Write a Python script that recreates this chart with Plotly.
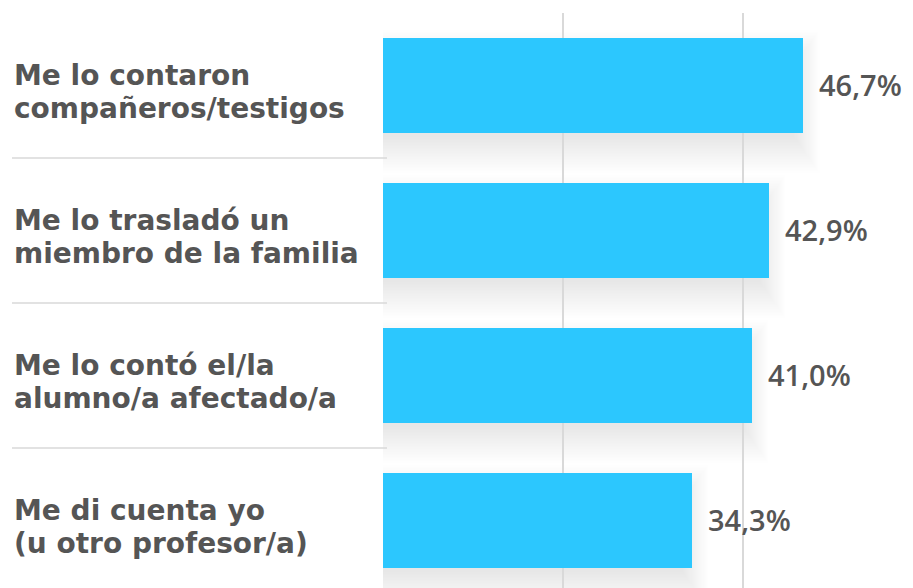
import plotly.graph_objects as go

# Respuestas: cómo se enteró el profesorado del caso
categories = [
    ["Me lo contaron", "compañeros/testigos"],
    ["Me lo trasladó un", "miembro de la familia"],
    ["Me lo contó el/la", "alumno/a afectado/a"],
    ["Me di cuenta yo", "(u otro profesor/a)"],
]
values = [46.7, 42.9, 41.0, 34.3]
value_labels = [f"{v:.1f}".replace(".", ",") + "%" for v in values]

W, H = 913, 588
M_L, M_T = 383, 13
X_MAX = 58.9
PX_PER_CAT = 145.0
plot_h = H - M_T
y_span = plot_h / PX_PER_CAT
BAR_W = 0.66

BAR_COLOR = "#2cc7fe"
TEXT_COLOR = "#555555"
GRID_COLOR = "#d9d9d9"
LABEL_FONT = "DejaVu Sans"
VALUE_FONT = "Open Sans"

ypos = list(range(len(values)))

fig = go.Figure()
fig.add_trace(go.Bar(
    x=values, y=ypos, orientation="h", width=BAR_W,
    marker=dict(color=BAR_COLOR, line=dict(width=0)),
    hoverinfo="skip",
))

shapes = []
# soft drop shadow under each bar: stacked translucent rectangles,
# offset downwards and spreading outwards
px_x = (W - M_L) / X_MAX
K = 24
OFF = 16
for i, v in enumerate(values):
    for k in range(K):
        s = -12 + 36 * k / (K - 1)
        shapes.append(dict(
            type="rect", xref="x", yref="y", layer="below",
            x0=0, x1=v + 0.7 * s / px_x,
            y0=i - BAR_W / 2 + (OFF - s) / PX_PER_CAT,
            y1=i + BAR_W / 2 + (OFF + s) / PX_PER_CAT,
            fillcolor="rgba(0,0,0,0.0055)", line=dict(width=0),
        ))

# separators between categories, extending into the label column
for i in range(len(values) - 1):
    shapes.append(dict(
        type="line", xref="paper", yref="y",
        x0=(12 - M_L) / (W - M_L), x1=4 / (W - M_L),
        y0=i + 0.5, y1=i + 0.5,
        line=dict(color=GRID_COLOR, width=1.5),
    ))

annotations = []
for i, (lines, lab, v) in enumerate(zip(categories, value_labels, values)):
    for j, line in enumerate(lines):
        annotations.append(dict(
            xref="paper", yref="y", x=(12 - M_L) / (W - M_L), y=i,
            text=line, showarrow=False, xanchor="left", yanchor="middle",
            font=dict(family=LABEL_FONT, size=28, color=TEXT_COLOR, weight="bold"),
            yshift=10 - 33 * j,
        ))
    annotations.append(dict(
        xref="x", yref="y", x=v, y=i, text=lab, showarrow=False,
        xanchor="left", yanchor="middle", xshift=14, yshift=1,
        font=dict(family=VALUE_FONT, size=29, color=TEXT_COLOR, weight=600),
    ))

fig.update_layout(
    width=W, height=H,
    margin=dict(l=M_L, r=0, t=M_T, b=0),
    paper_bgcolor="white", plot_bgcolor="white",
    showlegend=False,
    xaxis=dict(range=[0, X_MAX], dtick=20, showgrid=True, gridcolor=GRID_COLOR,
               gridwidth=2, showticklabels=False, zeroline=False, showline=False,
               fixedrange=True),
    yaxis=dict(range=[-0.5 + y_span, -0.5], showgrid=False, showticklabels=False,
               zeroline=False, showline=False, fixedrange=True),
    shapes=shapes,
    annotations=annotations,
    bargap=0,
)

fig.write_html("out.html", config={"displayModeBar": False})
